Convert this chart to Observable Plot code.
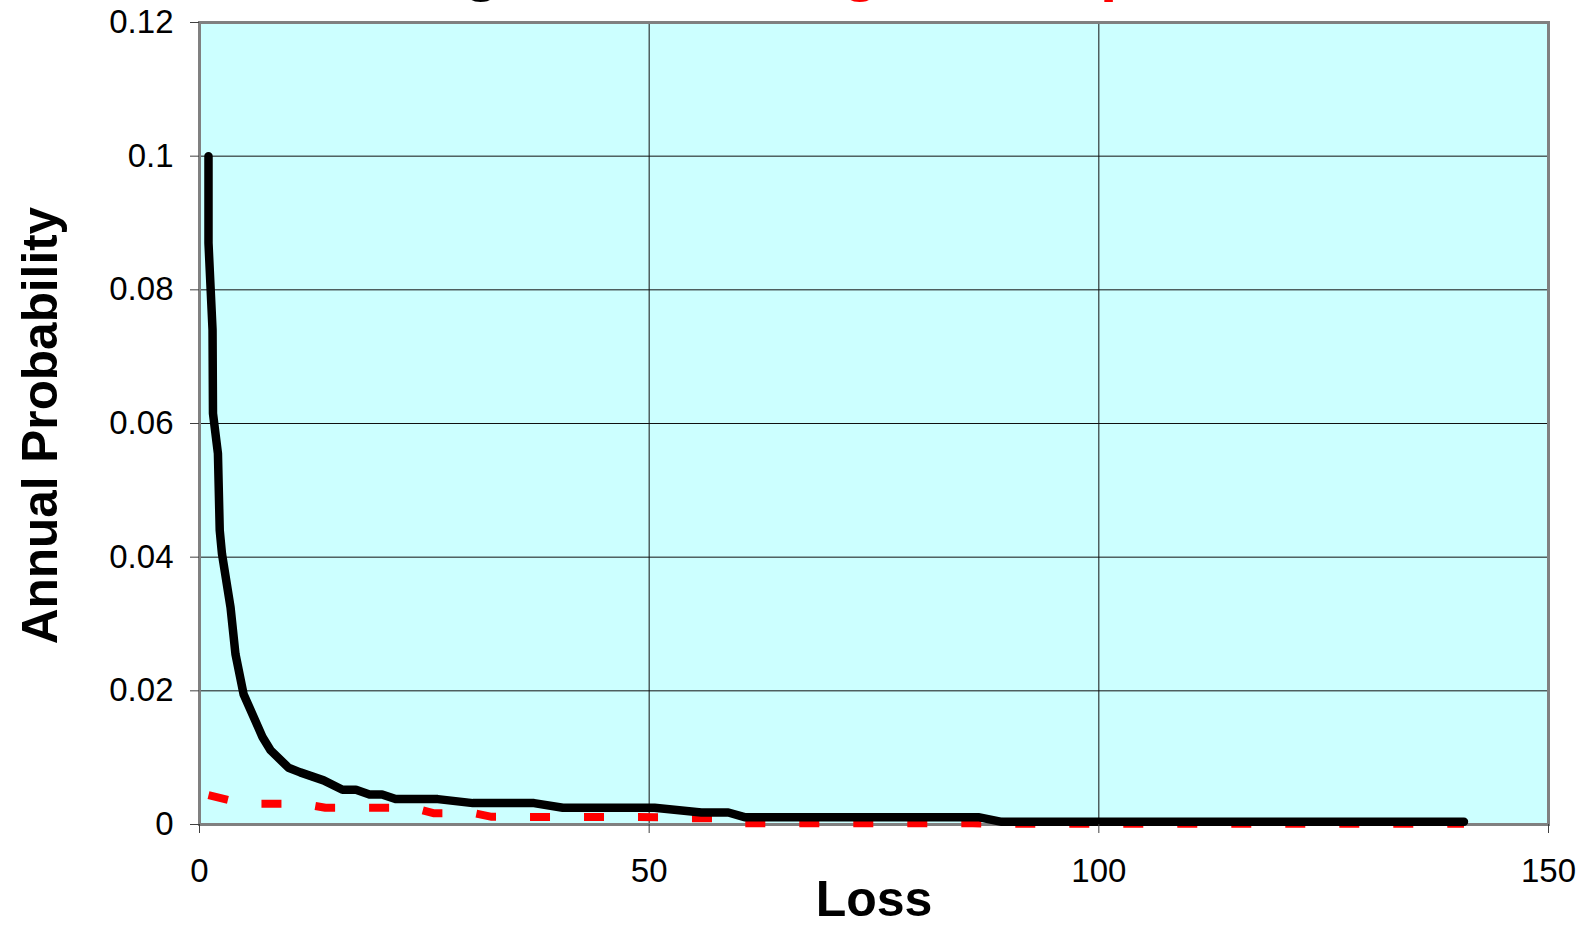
<!DOCTYPE html>
<html>
<head>
<meta charset="utf-8">
<script src="https://cdn.jsdelivr.net/npm/d3@7"></script>
<script src="https://cdn.jsdelivr.net/npm/@observablehq/plot@0.6"></script>
<style>
html, body { margin: 0; padding: 0; background: #fff; overflow: hidden; width: 1584px; height: 926px; }
#title { position: absolute; top: -57px; left: 0; width: 1584px; padding-right: 18px; box-sizing: border-box;
  text-align: center; font: bold 62px "Liberation Sans", Arial, sans-serif; line-height: 50px; white-space: nowrap; }
#chart { position: absolute; top: 0; left: 0; }
</style>
</head>
<body>
<div id="chart"></div>
<div id="title"><span style="color:#000">Existing versus </span><span style="color:#ff0000">Mitigated Exposure</span></div>
<script>
// Black curve (existing): loss values and annual probabilities
const existingLoss = [1.0, 1.0, 1.45, 1.5, 2.05, 2.25, 2.5, 3.45, 4.0, 4.9, 7.0, 7.9, 9.9, 11.2, 13.8, 15.9, 17.4, 18.9, 20.3, 21.8, 26.5, 30.4, 37.2, 40.4, 50.6, 55.8, 58.8, 60.6, 86.6, 89.2, 140.6];
const existingProb = [0.100, 0.087, 0.074, 0.0615, 0.0555, 0.044, 0.0405, 0.0325, 0.0255, 0.0195, 0.0131, 0.0111, 0.0085, 0.0078, 0.0066, 0.0052, 0.0052, 0.0045, 0.0045, 0.0038, 0.0038, 0.0032, 0.0032, 0.0025, 0.0025, 0.0018, 0.0018, 0.0011, 0.0011, 0.0004, 0.0004];

// Red dashed curve (mitigated)
const mitigatedLoss = [1.0, 5.0, 11.5, 14.0, 23.8, 26.0, 30.5, 32.5, 52.0, 53.5, 57.5, 59.5, 86.0, 88.0, 140.6];
const mitigatedProb = [0.0044, 0.0031, 0.0031, 0.0025, 0.0025, 0.0017, 0.0017, 0.00115, 0.0011, 0.00095, 0.00095, 0.0002, 0.0002, 0.0001, 0.0001];

const xTicks = [0, 50, 100, 150];
const yTicks = [0, 0.02, 0.04, 0.06, 0.08, 0.1, 0.12];
const xLabel = "Loss";
const yLabel = "Annual Probability";

const existing = existingLoss.map((x, i) => ({x, y: existingProb[i]}));
const mitigated = mitigatedLoss.map((x, i) => ({x, y: mitigatedProb[i]}));

const font = '"Liberation Sans", Arial, sans-serif';

const chart = Plot.plot({
  width: 1584,
  height: 926,
  marginLeft: 199,
  marginRight: 36,
  marginTop: 22,
  marginBottom: 102,
  x: {domain: [0, 150]},
  y: {domain: [0, 0.12]},
  style: {fontFamily: font, fontSize: "33px", color: "#000", background: "transparent", overflow: "visible"},
  marks: [
    Plot.frame({fill: "#CCFFFF"}),
    Plot.gridY(yTicks, {stroke: "#111111", strokeOpacity: 1, strokeWidth: 1}),
    Plot.gridX([50, 100], {stroke: "#111111", strokeOpacity: 1, strokeWidth: 1}),
    Plot.frame({stroke: "#808080", strokeWidth: 3}),
    Plot.line(mitigated, {x: "x", y: "y", stroke: "#ff0000", strokeWidth: 8, strokeDasharray: "20,34", strokeLinecap: "butt", strokeLinejoin: "miter"}),
    Plot.line(existing, {x: "x", y: "y", stroke: "#000000", strokeWidth: 8.5, strokeLinecap: "round", strokeLinejoin: "round"}),
    Plot.axisX({ticks: xTicks, tickSize: 9, tickPadding: 25, label: null, fontSize: 33, stroke: "#404040", tickFormat: d => String(d)}),
    Plot.axisY({ticks: yTicks, tickSize: 9, tickPadding: 17, label: null, fontSize: 33, stroke: "#404040", tickFormat: d => String(d)}),
    Plot.text([xLabel], {text: d => d, frameAnchor: "bottom", textAnchor: "middle", lineAnchor: "top", dy: 56, fontSize: 50, fontWeight: "bold", fill: "#000"}),
    Plot.text([yLabel], {text: d => d, frameAnchor: "left", textAnchor: "middle", lineAnchor: "middle", rotate: -90, dx: -158, dy: 2, fontSize: 49.5, fontWeight: "bold", fill: "#000"})
  ]
});
document.getElementById("chart").appendChild(chart);
</script>
</body>
</html>
